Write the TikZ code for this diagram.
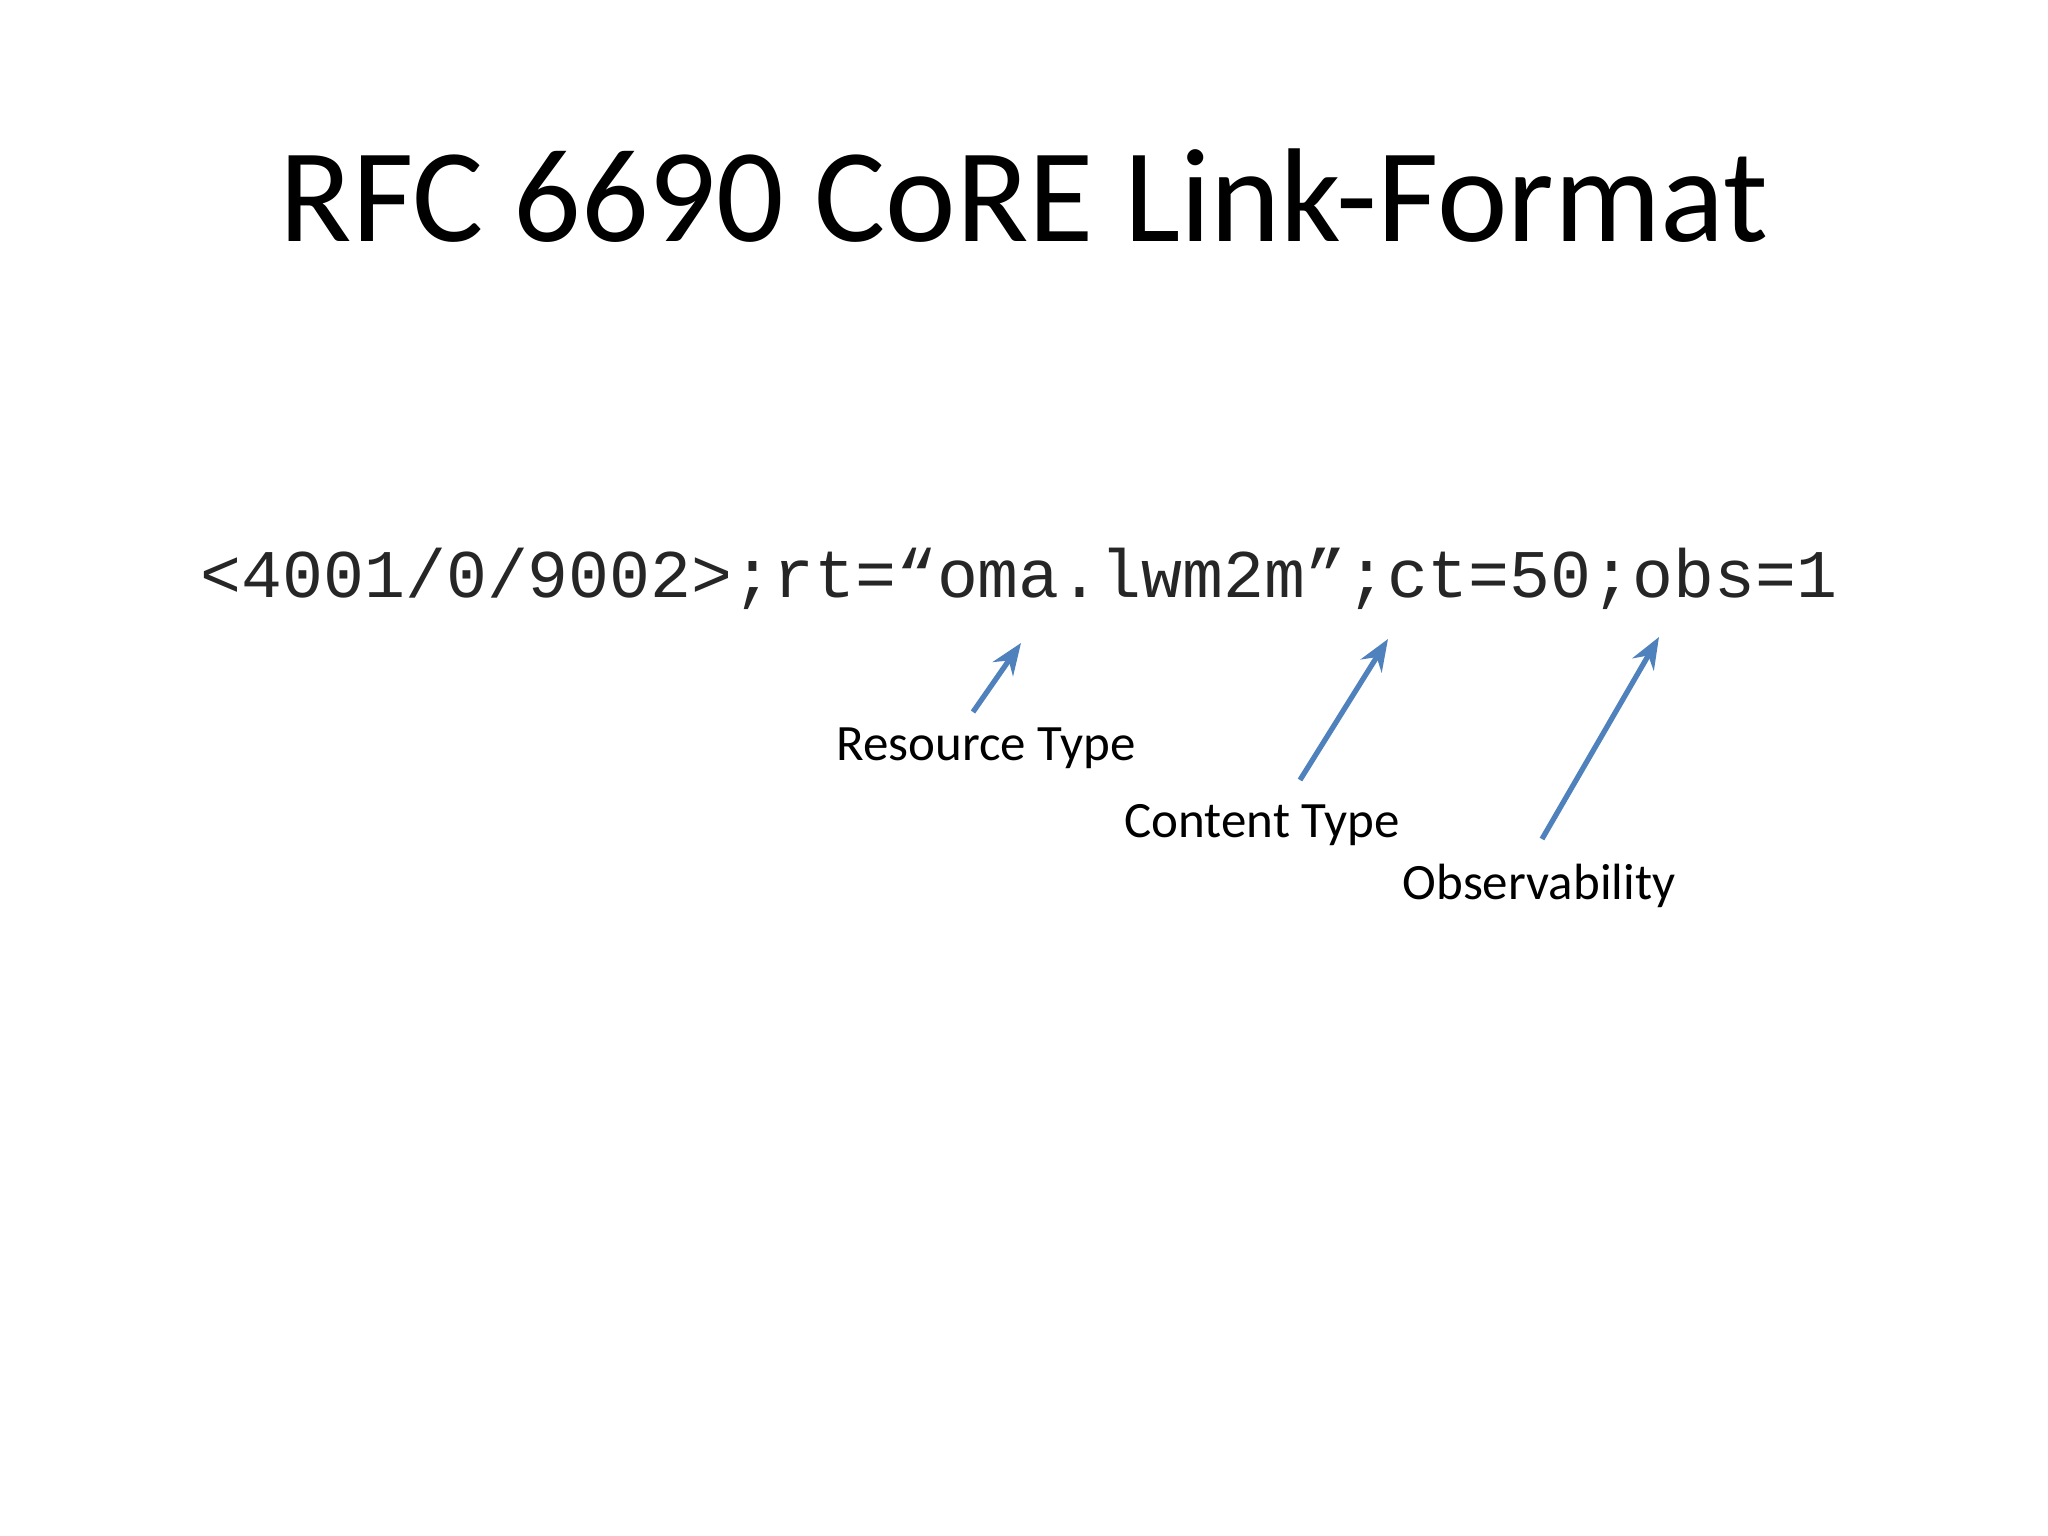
\documentclass[tikz,border=0pt]{standalone}
\usepackage{fontspec}
\setmainfont{Carlito}
\newfontfamily\codefont{Liberation Mono}
\usetikzlibrary{arrows.meta}
\definecolor{arrowblue}{HTML}{4F81BD}
\tikzset{lbl/.style={font=\fontsize{14.5pt}{17pt}\selectfont, inner sep=0pt},
  pointer/.style={draw=arrowblue, line width=1.5pt, -{Stealth[length=9pt,width=7pt]}}}
\begin{document}
\begin{tikzpicture}[x=1cm,y=-1cm]
\useasboundingbox[fill=white] (0,0) rectangle (20.48,15.36);
\node[inner sep=0pt, font=\fontsize{38pt}{44pt}\selectfont] (title) at (10.24,1.96) {RFC 6690 CoRE Link-Format};
\node[inner sep=0pt, font=\codefont\fontsize{19.4pt}{22pt}\selectfont, text=black!85] (code) at (10.19,5.79) {<4001/0/9002>;rt=“oma.lwm2m”;ct=50;obs=1};
\node[lbl] (rt) at (9.86,7.48) {Resource Type};
\node[lbl] (ct) at (12.62,8.25) {Content Type};
\node[lbl] (obs) at (15.39,8.86) {Observability};
\coordinate (rts) at (9.73,7.12); \coordinate (rte) at (10.21,6.43);
\coordinate (cts) at (13.00,7.80); \coordinate (cte) at (13.88,6.39);
\coordinate (obss) at (15.42,8.39); \coordinate (obse) at (16.59,6.37);
\draw[pointer] (rts) -- (rte);
\draw[pointer] (cts) -- (cte);
\draw[pointer] (obss) -- (obse);
\end{tikzpicture}
\end{document}
